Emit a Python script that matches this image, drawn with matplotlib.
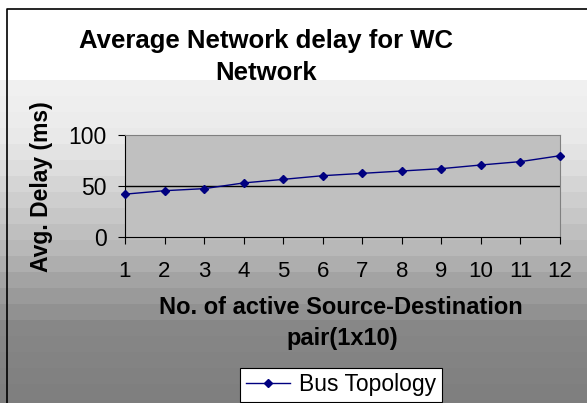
import numpy as np
import matplotlib.pyplot as plt

pairs = [1, 2, 3, 4, 5, 6, 7, 8, 9, 10, 11, 12]
bus_delay = [42, 45.4, 47.4, 53, 56.5, 60.1, 62.4, 64.7, 67, 70.6, 73.9, 79.7]

plt.rcParams['font.family'] = ['Liberation Sans', 'DejaVu Sans']

W, H = 587, 403
fig = plt.figure(figsize=(W / 100, H / 100), dpi=100)

# banded gradient background, white at top, mid gray at bottom
bg = fig.add_axes([0, 0, 1, 1], zorder=-1)
rows = np.floor(np.arange(H) / 16) * 16
shade = np.interp(rows, [0, 78, 80, 135, 240, 290, 320, 403],
                  [1.0, 1.0, 0.94, 0.91, 0.72, 0.60, 0.53, 0.49])
bg.imshow(shade[:, None], aspect='auto', cmap='gray', vmin=0, vmax=1,
          extent=[0, W, H, 0], interpolation='nearest')
bg.plot([7, 7, W], [H, 8.5, 8.5], color='black', lw=1.2)
bg.set_xlim(0, W)
bg.set_ylim(H, 0)
bg.axis('off')

ax = fig.add_axes([125 / W, 1 - 237 / H, 435 / W, 102 / H])
ax.set_facecolor('#c0c0c0')
ax.plot(pairs, bus_delay, color='#000080', lw=1, marker='D', ms=4.5,
        label='Bus Topology', clip_on=False, zorder=3)
ax.axhline(50, color='black', lw=1, zorder=1)
ax.set_xlim(1, 12)
ax.set_ylim(0, 100)
ax.set_xticks(pairs)
ax.set_yticks([0, 50, 100])
for s in ax.spines.values():
    s.set_color('#808080')
ax.spines['left'].set_color('black')
ax.spines['bottom'].set_color('black')
ax.tick_params(axis='x', labelsize=16, length=5, direction='out', pad=12)
ax.tick_params(axis='y', labelsize=16.5, length=5, direction='out', pad=8)

fig.text(266 / W, 1 - 41 / H, 'Average Network delay for WC',
         ha='center', va='center', fontsize=18.5, fontweight='bold')
fig.text(266 / W, 1 - 73 / H, 'Network',
         ha='center', va='center', fontsize=18.5, fontweight='bold')
fig.text(42 / W, 1 - 187 / H, 'Avg. Delay (ms)', rotation=90,
         ha='center', va='center', fontsize=16.5, fontweight='bold')
fig.text(341 / W, 1 - 308 / H, 'No. of active Source-Destination',
         ha='center', va='center', fontsize=17, fontweight='bold')
fig.text(342 / W, 1 - 339 / H, 'pair(1x10)',
         ha='center', va='center', fontsize=17, fontweight='bold')

leg = fig.legend(loc='center', bbox_to_anchor=(341 / W, 1 - 385 / H),
                 fontsize=16.5, frameon=True, fancybox=False,
                 edgecolor='black', framealpha=1, handlelength=1.9,
                 handletextpad=0.4, borderpad=0.25, borderaxespad=0)
leg.get_frame().set_linewidth(0.8)

fig.savefig('out.png', dpi=100)
